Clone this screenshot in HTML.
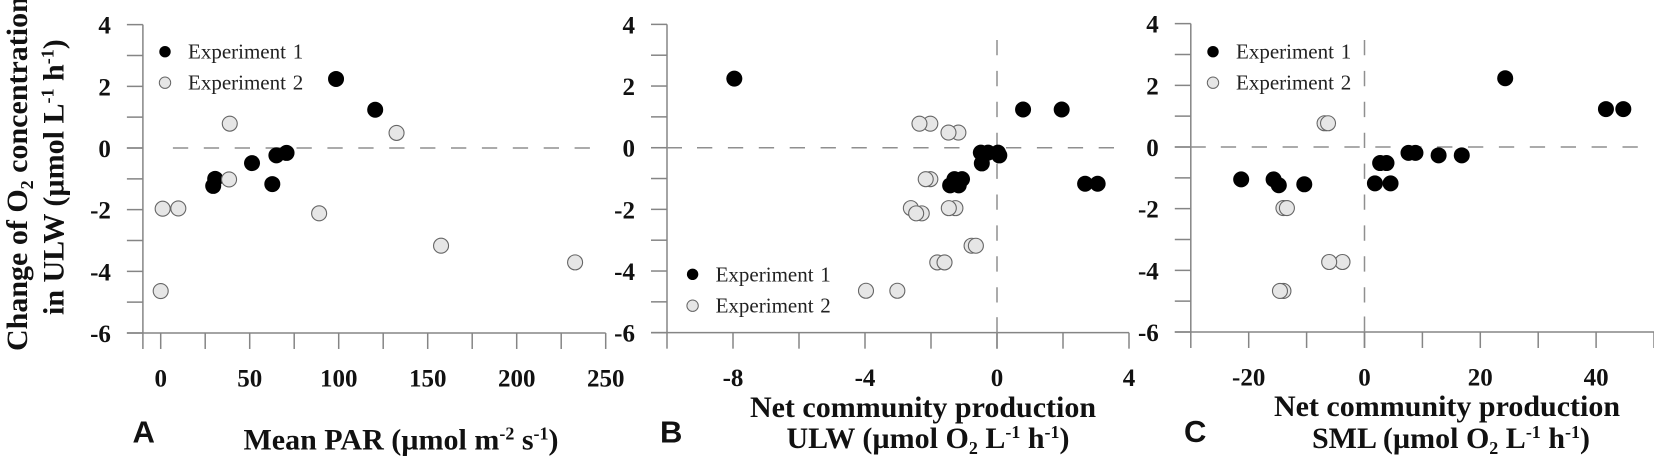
<!DOCTYPE html>
<html lang="en">
<head>
<meta charset="utf-8">
<title>Change of O2 concentration in ULW</title>
<style>
html,body{margin:0;padding:0;background:#fff;width:1654px;height:466px;overflow:hidden}
svg{display:block;position:absolute;left:0;top:0}
text{font-family:"Liberation Serif",serif}
.tick{font-weight:bold;font-size:25px;fill:#111}
.leg{font-size:21px;fill:#222;word-spacing:1.5px}
.title{font-weight:bold;font-size:30px;fill:#111}
.panel{font-family:"Liberation Sans",sans-serif;font-weight:bold;font-size:31px;fill:#111}
.sup{font-size:18px}
</style>
</head>
<body>
<svg id="chart" xmlns="http://www.w3.org/2000/svg" width="1654" height="466" viewBox="0 0 1654 466">
  <g id="axes"></g>
  <g id="marks"></g>
  <g id="labels"></g>

  <text class="title" transform="translate(27,351) rotate(-90)">Change of O<tspan class="sup" dy="6">2</tspan><tspan dy="-6"> concentration</tspan></text>
  <text class="title" transform="translate(63.5,315) rotate(-90)">in ULW (µmol L<tspan class="sup" dy="-10">-1</tspan><tspan dy="10"> h</tspan><tspan class="sup" dy="-10">-1</tspan><tspan dy="10">)</tspan></text>

  <text class="panel" x="132.5" y="442.7">A</text>
  <text class="title" x="401" y="449.5" text-anchor="middle">Mean PAR (µmol m<tspan class="sup" dy="-10">-2</tspan><tspan dy="10"> s</tspan><tspan class="sup" dy="-10">-1</tspan><tspan dy="10">)</tspan></text>

  <text class="panel" x="660" y="442.7">B</text>
  <text class="title" x="923" y="417" text-anchor="middle">Net community production</text>
  <text class="title" x="928" y="448" text-anchor="middle">ULW (µmol O<tspan class="sup" dy="6">2</tspan><tspan dy="-6"> L</tspan><tspan class="sup" dy="-10">-1</tspan><tspan dy="10"> h</tspan><tspan class="sup" dy="-10">-1</tspan><tspan dy="10">)</tspan></text>

  <text class="panel" x="1184" y="442">C</text>
  <text class="title" x="1447" y="416" text-anchor="middle">Net community production</text>
  <text class="title" x="1451" y="448" text-anchor="middle">SML (µmol O<tspan class="sup" dy="6">2</tspan><tspan dy="-6"> L</tspan><tspan class="sup" dy="-10">-1</tspan><tspan dy="10"> h</tspan><tspan class="sup" dy="-10">-1</tspan><tspan dy="10">)</tspan></text>
</svg>
<script>
// Shared y axis
const yTickValues = [4, 3, 2, 1, 0, -1, -2, -3, -4, -5, -6];
const yTickLabels = ['4', '', '2', '', '0', '', '-2', '', '-4', '', '-6'];
const legendLabels = ['Experiment 1', 'Experiment 2'];

// Panel A: mean PAR
const aTickValues = [-10, 0, 25, 50, 75, 100, 125, 150, 175, 200, 225, 250];
const aTickLabels = ['', '0', '', '50', '', '100', '', '150', '', '200', '', '250'];
const aExp1X = [98.5, 120.5, 70.7, 65, 51.3, 62.7, 30.6, 29.5];
const aExp1Y = [2.24, 1.24, -0.16, -0.24, -0.49, -1.17, -1.0, -1.23];
const aExp2X = [38.8, 132.5, 38.4, 1.1, 9.9, 89, 157.5, 232.8, 0];
const aExp2Y = [0.79, 0.49, -1.02, -1.97, -1.96, -2.12, -3.17, -3.71, -4.64];

// Panel B: net community production ULW
const bTickValues = [-10, -8, -6, -4, -2, 0, 2, 4];
const bTickLabels = ['', '-8', '', '-4', '', '0', '', '4'];
const bExp1X = [-7.96, 0.79, 1.96, 2.67, 3.05, 0.03, -0.49, -0.27, 0.07, -0.46, -1.29, -1.06, -1.42, -1.16];
const bExp1Y = [2.24, 1.24, 1.24, -1.17, -1.17, -0.16, -0.16, -0.16, -0.25, -0.51, -1.02, -1.02, -1.22, -1.22];
const bExp2X = [-2.02, -2.35, -1.17, -1.47, -2.02, -2.16, -2.61, -1.26, -1.46, -2.28, -2.45, -0.77, -0.64, -1.81, -1.59, -3.97, -3.02];
const bExp2Y = [0.78, 0.78, 0.49, 0.49, -1.02, -1.02, -1.96, -1.96, -1.96, -2.13, -2.13, -3.18, -3.18, -3.72, -3.72, -4.64, -4.64];

// Panel C: net community production SML
const cTickValues = [-30, -20, -10, 0, 10, 20, 30, 40, 50];
const cTickLabels = ['', '-20', '', '0', '', '20', '', '40', ''];
const cExp1X = [24.3, 41.7, 44.7, 16.8, 12.8, 7.6, 8.8, 2.7, 3.8, 1.8, 4.5, -10.4, -21.3, -15.7, -14.8];
const cExp1Y = [2.23, 1.23, 1.23, -0.27, -0.27, -0.19, -0.19, -0.52, -0.52, -1.18, -1.18, -1.21, -1.05, -1.05, -1.24];
const cExp2X = [-6.9, -6.3, -14, -13.4, -3.8, -6.1, -14, -14.6];
const cExp2Y = [0.77, 0.77, -1.98, -1.98, -3.73, -3.73, -4.67, -4.67];

const NS = 'http://www.w3.org/2000/svg';
const axesLayer = document.getElementById('axes');
const marksLayer = document.getElementById('marks');
const labelsLayer = document.getElementById('labels');
const AXIS_COLOR = '#858585';
const DASH_COLOR = '#8f8f8f';
const DASHES = '15.3 15.6';

function shape(parent, tag, attrs) {
  const el = document.createElementNS(NS, tag);
  for (const k in attrs) el.setAttribute(k, attrs[k]);
  parent.appendChild(el);
  return el;
}

function drawPanel(p) {
  const sx = v => p.x0 + v * p.xScale;
  const sy = v => p.y0 - v * 30.83;
  const axisX = sx(p.xTicks[0]);
  const bottom = sy(-6);
  const xEnd = sx(p.xTicks[p.xTicks.length - 1]);
  const left = axisX - 16;

  const yAxis = shape(axesLayer, 'line', {x1: axisX, x2: axisX, y1: sy(4), y2: bottom, stroke: AXIS_COLOR, 'stroke-width': 1.5});
  
  

  const xAxis = shape(axesLayer, 'line', {x1: left, x2: xEnd, y1: bottom, y2: bottom, stroke: AXIS_COLOR, 'stroke-width': 1.5});
  
  

  const zeroStart = shape(axesLayer, 'line', {x1: left, x2: left + p.firstDash, y1: sy(0), y2: sy(0), stroke: DASH_COLOR, 'stroke-width': 1.5});
  
  

  const zero = shape(axesLayer, 'line', {x1: left + 46, x2: p.dashEnd, y1: sy(0), y2: sy(0), stroke: DASH_COLOR, 'stroke-width': 1.5, 'stroke-dasharray': DASHES});
  
  

  if (p.vDash) {
    const vzero = shape(axesLayer, 'line', {x1: sx(0), x2: sx(0), y1: 40, y2: bottom - 15.5, stroke: DASH_COLOR, 'stroke-width': 1.5, 'stroke-dasharray': DASHES});
    
    
    const vend = shape(axesLayer, 'line', {x1: sx(0), x2: sx(0), y1: bottom - 15.5, y2: bottom + 16, stroke: DASH_COLOR, 'stroke-width': 1.5});
    
    
  }

  yTickValues.forEach((v, i) => {
    const t = shape(axesLayer, 'line', {x1: left, x2: axisX, y1: sy(v), y2: sy(v), stroke: AXIS_COLOR, 'stroke-width': 1.5});
    
    
    if (yTickLabels[i]) {
      const l = shape(labelsLayer, 'text', {x: axisX - 32, y: sy(v) + 9, 'text-anchor': 'end', class: 'tick'});
      l.textContent = yTickLabels[i];
      
      
    }
  });

  p.xTicks.forEach((v, i) => {
    const t = shape(axesLayer, 'line', {x1: sx(v), x2: sx(v), y1: bottom, y2: bottom + 16, stroke: AXIS_COLOR, 'stroke-width': 1.5});
    
    
    if (p.xLabels[i]) {
      const l = shape(labelsLayer, 'text', {x: sx(v), y: bottom + 53.5, 'text-anchor': 'middle', class: 'tick'});
      l.textContent = p.xLabels[i];
      
      
    }
  });

  p.exp1X.forEach((v, i) => {
    const c = shape(marksLayer, 'circle', {cx: sx(v), cy: sy(p.exp1Y[i]), r: 8, fill: '#000'});
    
    
  });
  p.exp2X.forEach((v, i) => {
    const c = shape(marksLayer, 'circle', {cx: sx(v), cy: sy(p.exp2Y[i]), r: 7.5, fill: '#e6e6e6', stroke: '#666', 'stroke-width': 1.1});
    
    
  });

  legendLabels.forEach((txt, i) => {
    const my = p.legendY[i];
    const attrs = i === 0 ? {fill: '#000'} : {fill: '#e6e6e6', stroke: '#666', 'stroke-width': 1};
    attrs.cx = p.legendX;
    attrs.cy = my;
    attrs.r = 5.7;
    const m = shape(labelsLayer, 'circle', attrs);
    
    
    const l = shape(labelsLayer, 'text', {x: p.legendX + 23, y: my + 7, class: 'leg'});
    l.textContent = txt;
    
    
  });
}

drawPanel({id: 'a', x0: 160.7, xScale: 1.78, y0: 148, dashEnd: 591, vDash: false, firstDash: 16,
  xTicks: aTickValues, xLabels: aTickLabels,
  exp1X: aExp1X, exp1Y: aExp1Y, exp2X: aExp2X, exp2Y: aExp2Y,
  legendX: 165, legendY: [51.7, 82.7]});
drawPanel({id: 'b', x0: 997, xScale: 33, y0: 147.7, dashEnd: 1114, vDash: true, firstDash: 31,
  xTicks: bTickValues, xLabels: bTickLabels,
  exp1X: bExp1X, exp1Y: bExp1Y, exp2X: bExp2X, exp2Y: bExp2Y,
  legendX: 692.6, legendY: [274.3, 305.7]});
drawPanel({id: 'c', x0: 1364.5, xScale: 5.79, y0: 147, dashEnd: 1638, vDash: true, firstDash: 31,
  xTicks: cTickValues, xLabels: cTickLabels,
  exp1X: cExp1X, exp1Y: cExp1Y, exp2X: cExp2X, exp2Y: cExp2Y,
  legendX: 1213, legendY: [51.7, 82.7]});
</script>
</body>
</html>
